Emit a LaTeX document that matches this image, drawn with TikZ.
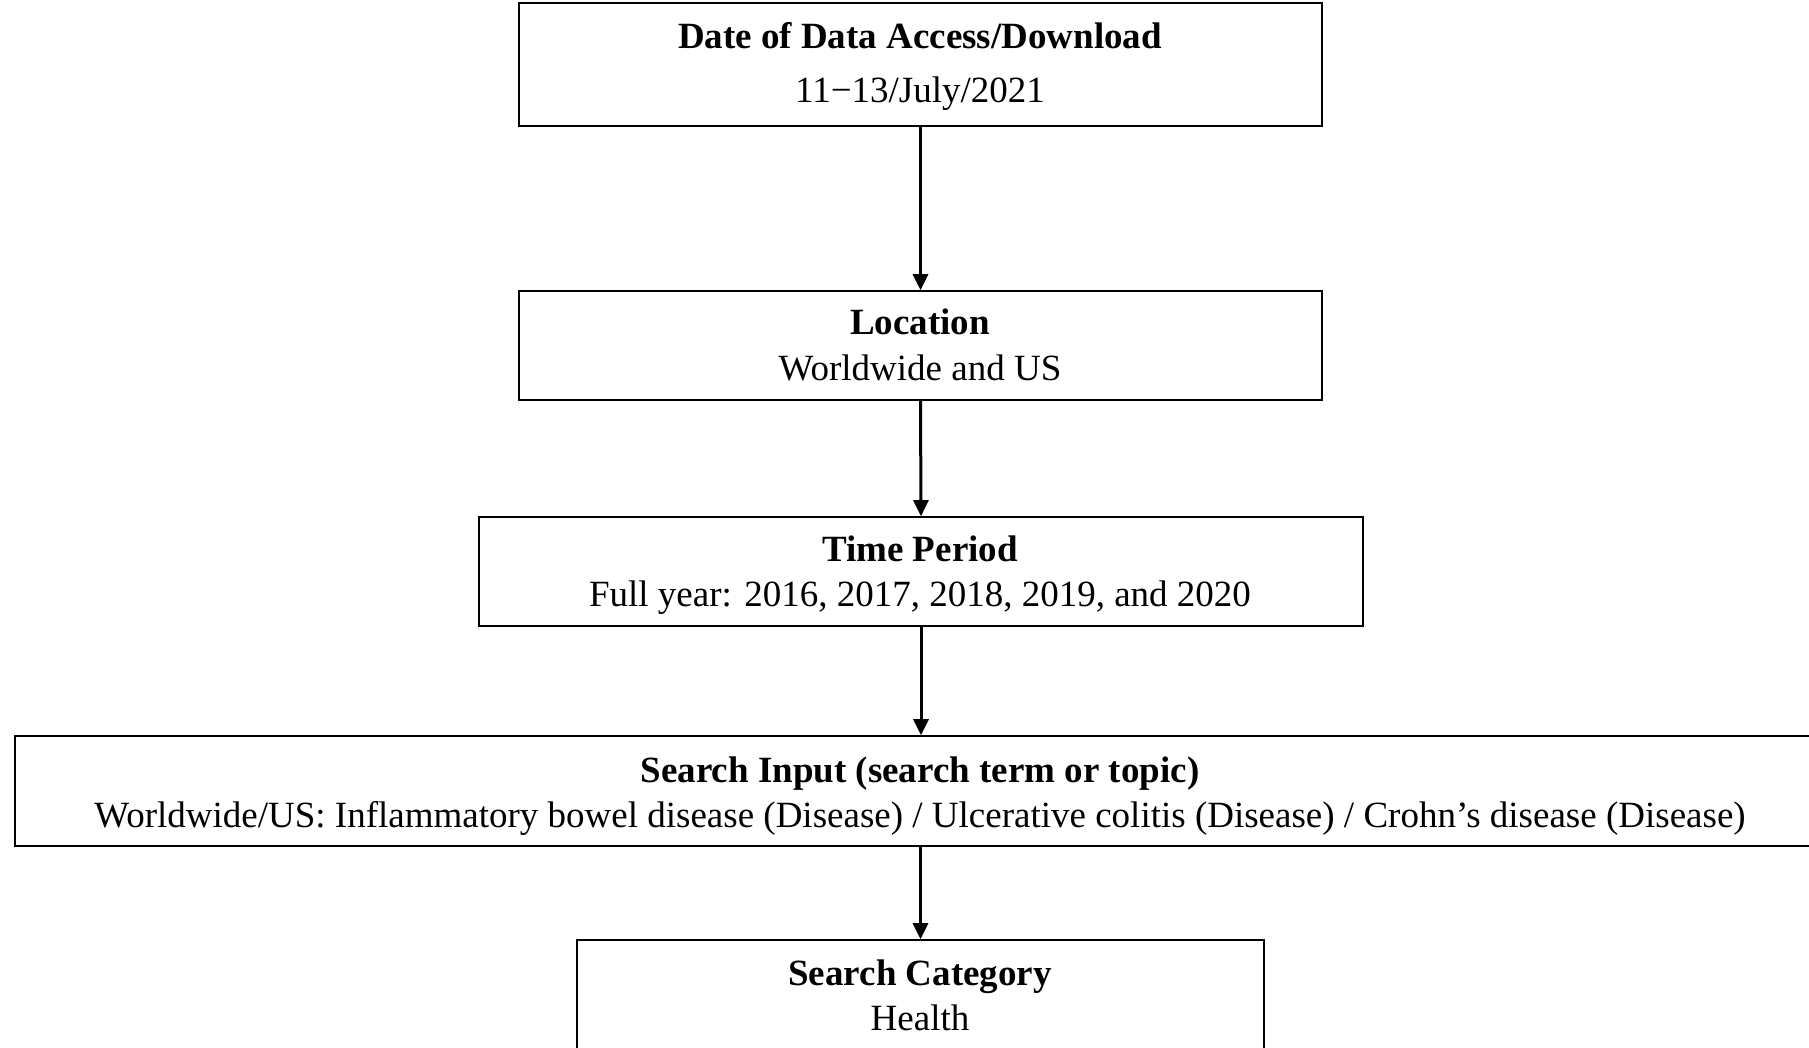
\documentclass[tikz,border=0pt]{standalone}
\usepackage{fontspec}
\setmainfont{Liberation Serif}
\usetikzlibrary{arrows.meta}
\tikzset{
  box/.style={draw=black, line width=1.6pt, inner sep=0pt, fill=none},
  lbl/.style={inner sep=0pt, anchor=base, font=\fontsize{37}{44}\selectfont},
  ttl/.style={lbl, font=\fontsize{37}{44}\selectfont\bfseries},
  conn/.style={line width=3pt, -{Triangle[length=16pt,width=15pt]}}
}
\begin{document}
\begin{tikzpicture}[x=1pt,y=-1pt]
\useasboundingbox (0,0) rectangle (1809,1048);
\fill[white] (0,0) rectangle (1809,1048);
\node[box, minimum width=803pt, minimum height=123pt] (b1) at (920.5,64.5) {};
\node[box, minimum width=803pt, minimum height=109pt] (b2) at (920.5,345.5) {};
\node[box, minimum width=884pt, minimum height=109pt] (b3) at (921,571.5) {};
\node[box, minimum width=1815pt, minimum height=110pt] (b4) at (922.5,791) {};
\node[box, minimum width=687pt, minimum height=130pt] (b5) at (920.5,1005) {};

\node[ttl] (t1) at (920,49) {Date of Data Access/Download};
\node[lbl] (s1) at (920,103) {11−13/July/2021};
\node[ttl] (t2) at (920,335) {Location};
\node[lbl] (s2) at (920,380) {Worldwide and US};
\node[ttl] (t3) at (920,561) {Time Period};
\node[lbl] (s3) at (920,606) {Full year: 2016, 2017, 2018, 2019, and 2020};
\node[ttl] (t4) at (920,782) {Search Input (search term or topic)};
\node[lbl] (s4) at (920,827) {Worldwide/US: Inflammatory bowel disease (Disease) / Ulcerative colitis (Disease) / Crohn’s disease (Disease)};
\node[ttl] (t5) at (920,985) {Search Category};
\node[lbl] (s5) at (920,1030) {Health};

\draw[conn] (b1.south) -- (b2.north);
\draw[conn] (b2.south) -- (b3.north);
\draw[conn] (b3.south) -- (b4.north -| b3.south);
\draw[conn] (b4.south -| b5.north) -- (b5.north);
\end{tikzpicture}
\end{document}
